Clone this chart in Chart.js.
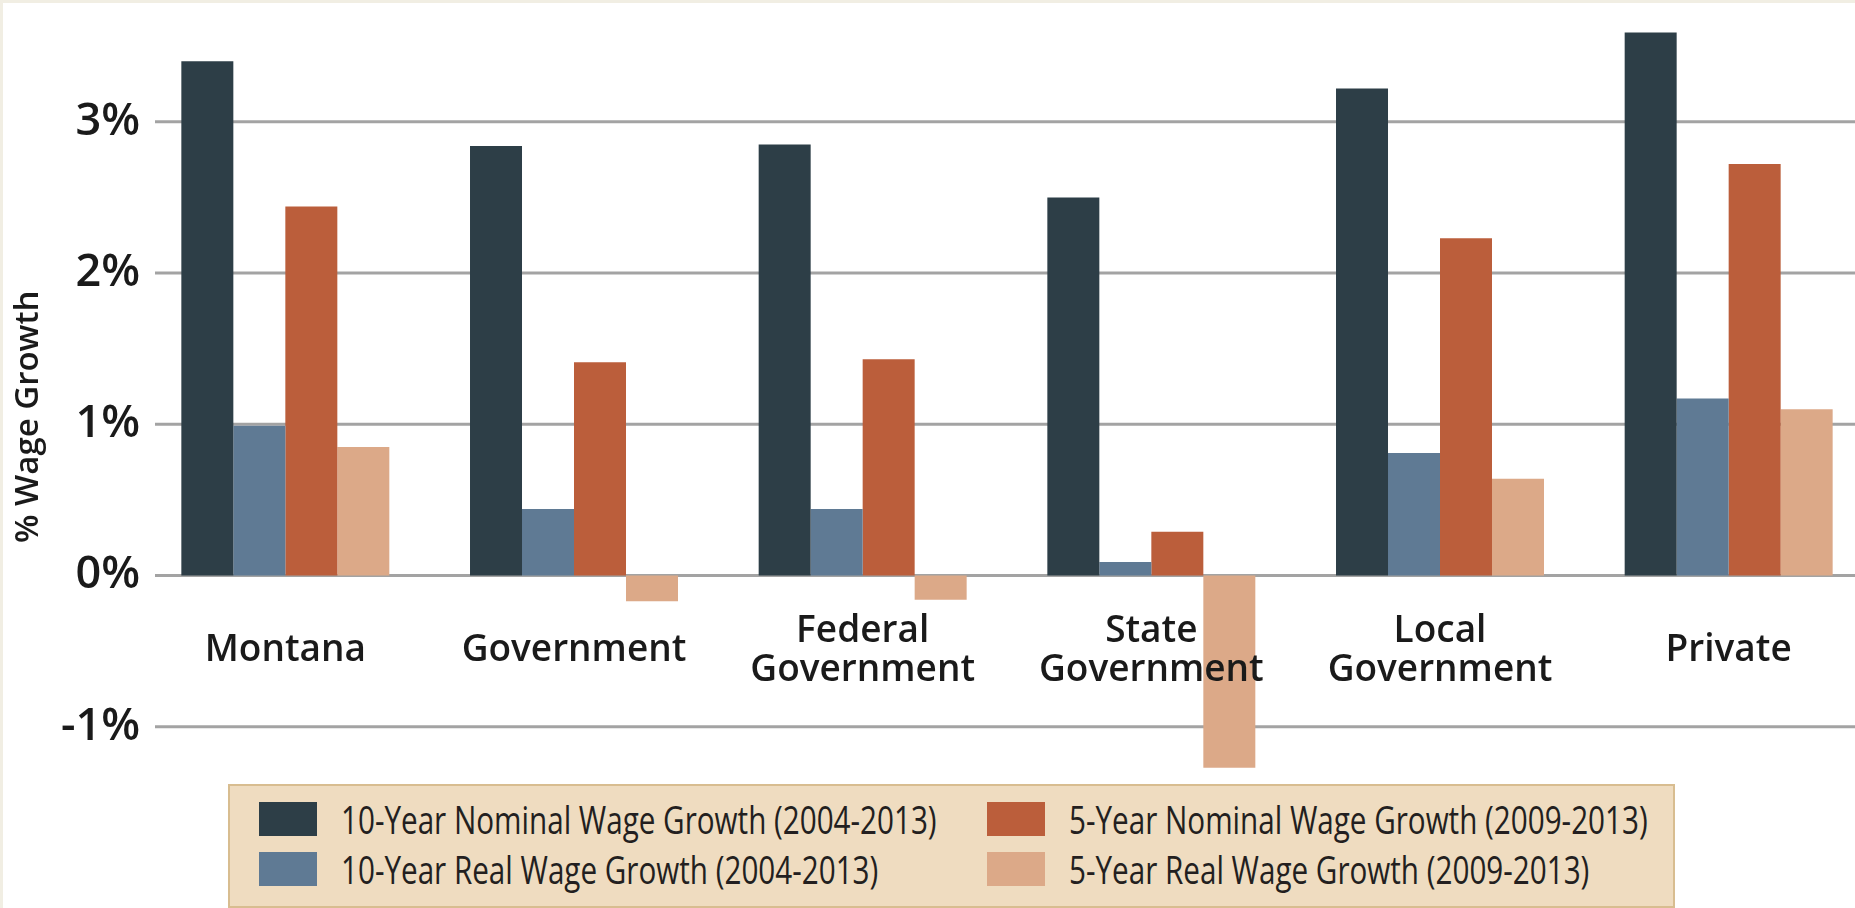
<!DOCTYPE html>
<html>
<head>
<meta charset="utf-8">
<title>Wage Growth</title>
<script src="https://cdn.jsdelivr.net/npm/chart.js@4.4.0/dist/chart.umd.min.js"></script>
<style>
  html, body { margin: 0; padding: 0; width: 1855px; height: 908px; overflow: hidden; background: #f1eee3; }
  #panel { position: absolute; left: 3px; top: 3px; width: 1870px; height: 905px; background: #fff; }
  #grafico { position: absolute; left: 0; top: 0; }
  #leyenda {
    position: absolute; left: 228px; top: 784px; width: 1447px; height: 124px;
    box-sizing: border-box; background: #efdcc0; border: 2px solid #d8bd90;
    padding: 16px 0 0 29px; display: grid; grid-template-rows: 34px 34px; row-gap: 16px;
    grid-template-columns: 728px auto; grid-auto-flow: column; font-family: 'Open Sans', sans-serif;
  }
  .item { display: flex; align-items: center; height: 34px; }
  .caja { width: 58px; height: 34px; flex: none; }
  .texto { margin-left: 24px; font-size: 38px; line-height: 34px; color: #231f20; white-space: nowrap;
           transform: scaleX(0.78); transform-origin: left center; }
</style>
</head>
<body>
<div id="panel"><canvas id="grafico" width="1870" height="905"></canvas></div>
<div id="leyenda"></div>
<script>
// Wage growth by sector, percent
const categorias = ['Montana', 'Government', ['Federal', 'Government'], ['State', 'Government'], ['Local', 'Government'], 'Private'];
const nominal10 = [3.40, 2.84, 2.85, 2.50, 3.22, 3.59];
const real10 = [0.99, 0.44, 0.44, 0.09, 0.81, 1.17];
const nominal5 = [2.44, 1.41, 1.43, 0.29, 2.23, 2.72];
const real5 = [0.85, -0.17, -0.16, -1.27, 0.64, 1.10];
const nombresSeries = [
  '10-Year Nominal Wage Growth (2004-2013)',
  '10-Year Real Wage Growth (2004-2013)',
  '5-Year Nominal Wage Growth (2009-2013)',
  '5-Year Real Wage Growth (2009-2013)'
];
const colores = ['#2d3e47', '#5f7a94', '#bb5e3b', '#dca988'];

const fuente = "'Open Sans', sans-serif";

// horizontal guide lines at each y tick, starting a bit right of the axis
const lineasGuia = {
  id: 'lineasGuia',
  beforeDatasetsDraw(chart) {
    const { ctx, chartArea, scales: { y } } = chart;
    ctx.save();
    ctx.strokeStyle = '#a3a3a3';
    ctx.lineWidth = 3;
    y.ticks.forEach(t => {
      const py = y.getPixelForValue(t.value);
      ctx.beginPath();
      ctx.moveTo(chartArea.left + 14, py);
      ctx.lineTo(chartArea.right, py);
      ctx.stroke();
    });
    ctx.restore();
  }
};

const valores = [nominal10, real10, nominal5, real5];

const chart = new Chart(document.getElementById('grafico'), {
  type: 'bar',
  data: {
    labels: categorias,
    datasets: valores.map((serie, i) => ({
      label: nombresSeries[i],
      data: serie,
      backgroundColor: colores[i],
      borderWidth: 0,
      categoryPercentage: 0.7205,
      barPercentage: 1
    }))
  },
  options: {
    responsive: false,
    animation: false,
    layout: { padding: { top: 27.8, bottom: 105.5, left: 0, right: 0 } },
    plugins: {
      legend: { display: false },
      tooltip: { enabled: false }
    },
    scales: {
      x: {
        position: { y: 0 },
        grid: { display: false, drawTicks: false },
        border: { display: false },
        ticks: {
          z: 1,
          color: '#1a1a1a',
          font: { family: fuente, size: 37, weight: '600', lineHeight: 1.04 },
          padding: 56,
          crossAlign: 'center',
          maxRotation: 0,
          autoSkip: false
        }
      },
      y: {
        min: -1.5,
        max: 3.6,
        afterFit(scale) { scale.width = 138; },
        grid: { display: false, drawTicks: false },
        border: { display: false },
        ticks: {
          stepSize: 1,
          includeBounds: false,
          padding: 1,
          color: '#1a1a1a',
          font: { family: fuente, size: 45, weight: '600' },
          callback: v => v + '%'
        },
        title: {
          display: true,
          text: '% Wage Growth',
          color: '#1a1a1a',
          font: { family: fuente, size: 33, weight: '600' },
          padding: { top: 6, bottom: 0 }
        }
      }
    }
  },
  plugins: [lineasGuia]
});

// legend box, two columns
const leyenda = document.getElementById('leyenda');
chart.options.plugins.legend.labels.generateLabels(chart).forEach(item => {
  const div = document.createElement('div');
  div.className = 'item';
  div.innerHTML = `<span class="caja" style="background:${item.fillStyle}"></span><span class="texto">${item.text}</span>`;
  leyenda.appendChild(div);
});
</script>
</body>
</html>
